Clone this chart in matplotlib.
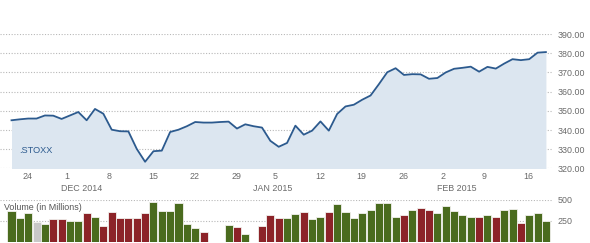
import numpy as np
import matplotlib.pyplot as plt

# closing values, one per trading-day slot
price = [345.1, 345.6, 346.0, 346.0, 347.6, 347.5, 345.8, 347.6, 349.4, 345.1,
         351.0, 348.5, 340.2, 339.4, 339.3, 330.2, 323.5, 329.0, 329.3, 339.0,
         340.2, 342.0, 344.2, 343.9, 343.9, 344.2, 344.4, 340.8, 343.0, 342.0,
         341.3, 334.4, 331.3, 333.3, 342.3, 337.6, 339.7, 344.5, 339.7, 348.4,
         352.3, 353.2, 355.8, 358.0, 363.9, 370.1, 372.2, 368.7, 369.1, 369.0,
         366.7, 367.1, 370.0, 371.9, 372.4, 373.0, 370.4, 372.9, 372.0, 374.6,
         376.9, 376.4, 376.9, 380.3, 380.6]

# volume in millions (nan = no bar)
nan = np.nan
volume = [363, 280, 339, 232, 208, 268, 268, 244, 244, 339,
          292, 184, 351, 280, 280, 280, 339, 474, 363, 363,
          462, 205, 165, 110, nan, nan, 193, 169, 89, nan,
          181, 310, 280, 280, 327, 351, 268, 292, 351, 443,
          351, 280, 339, 375, 455, 455, 292, 319, 375, 399,
          375, 339, 419, 363, 319, 292, 292, 319, 295, 375,
          387, 224, 319, 339, 248]

# g = up, r = down, n = unchanged, - = none
vol_dir = "gggngrrggrgrrrrrrggggggr--grg-rrrggrggrggggggggrgrrgggggrgrggrggg"

tick_slots = [2, 7, 12, 17, 22, 27, 32, 37, 42, 47, 52, 57, 62]
tick_labels = ["24", "1", "8", "15", "22", "29", "5", "12", "19", "26", "2", "9", "16"]
month_slots = [7, 30, 52]
month_labels = ["DEC 2014", "JAN 2015", "FEB 2015"]
price_ticks = [320, 330, 340, 350, 360, 370, 380, 390]
vol_ticks = [250, 500]

line_col = "#2c5a8e"
fill_col = "#dce6f0"
text_col = "#6a6a6a"
grid_col = "#b8b8b8"
dir_colors = {"g": "#4a6b1e", "r": "#8c2328", "n": "#c8c8c8"}

plt.rcParams["font.family"] = ["Liberation Sans", "DejaVu Sans"]
fs = 6.4

fig = plt.figure(figsize=(5.9, 2.43), dpi=100)
ax = fig.add_axes([0, 0.3066, 0.9373, 0.5534])
axv = fig.add_axes([0, 0.006, 0.9373, 0.173])

x = np.arange(len(price))
xlim = (-1.377, 64.85)

# price panel
ax.fill_between(x, price, 320, color=fill_col, lw=0, zorder=1)
ax.plot(x, price, color=line_col, lw=1.3, zorder=3, solid_joinstyle="round")
ax.set_xlim(*xlim)
ax.set_ylim(320, 390)
ax.set_yticks(price_ticks)
ax.set_yticklabels([f"{v:.2f}" for v in price_ticks])
ax.yaxis.tick_right()
ax.tick_params(axis="y", length=0, pad=3.6, labelsize=fs, labelcolor=text_col)
ax.set_xticks([])
ax.grid(axis="y", color=grid_col, lw=0.8, linestyle=(0, (1, 1.5)))
ax.set_axisbelow(True)
for s in ax.spines.values():
    s.set_visible(False)

ax.text(0.95, 329.5, ".STOXX", color=line_col, fontsize=fs + 0.2, va="center", zorder=4)

for slot, lab in zip(tick_slots, tick_labels):
    ax.annotate(lab, (slot, 0), xycoords=("data", "axes fraction"),
                xytext=(-4, -5.8), textcoords="offset points",
                ha="left", va="center", fontsize=fs, color=text_col,
                annotation_clip=False)
for slot, lab in zip(month_slots, month_labels):
    ax.annotate(lab, (slot, 0), xycoords=("data", "axes fraction"),
                xytext=(-6.5, -14.4), textcoords="offset points",
                ha="left", va="center", fontsize=fs, color=text_col,
                annotation_clip=False)

# volume panel
colors = [dir_colors.get(d, "white") for d in vol_dir]
axv.bar(x, volume, width=0.96, color=colors, edgecolor="#f2f2ee", lw=0.6, zorder=2)
axv.set_xlim(*xlim)
axv.set_ylim(0, 500)
axv.set_yticks(vol_ticks)
axv.yaxis.tick_right()
axv.tick_params(axis="y", length=0, pad=3.6, labelsize=fs, labelcolor=text_col)
axv.set_xticks([])
axv.grid(axis="y", color=grid_col, lw=0.8, linestyle=(0, (1, 1.5)))
axv.set_axisbelow(True)
for s in axv.spines.values():
    s.set_visible(False)
axv.text(0.007, 0.82, "Volume (in Millions)", transform=axv.transAxes,
         fontsize=fs, color="#555555", va="center", ha="left", zorder=5)

fig.savefig("out.png", dpi=100)
